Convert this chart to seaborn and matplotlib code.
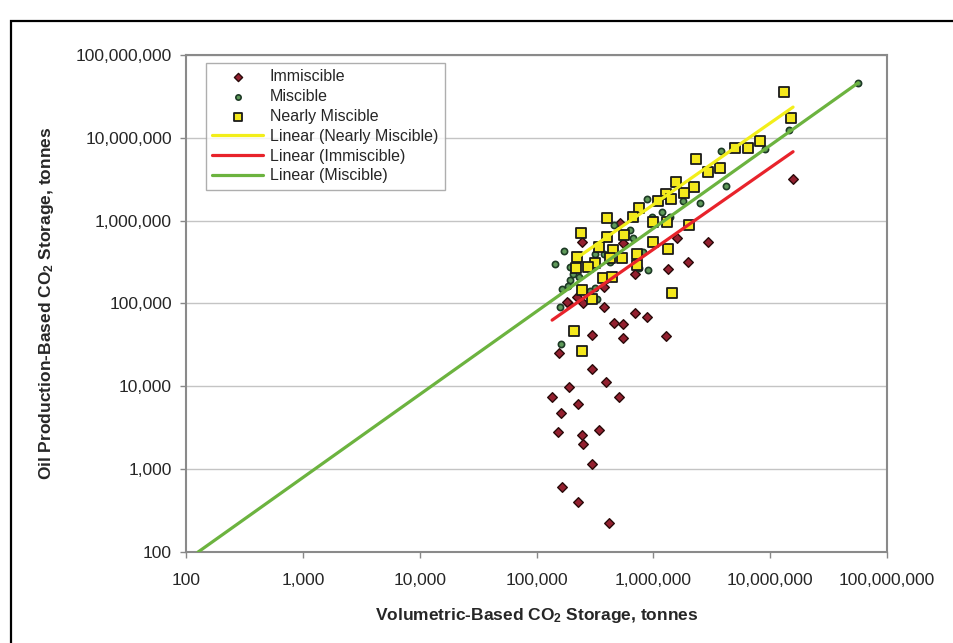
import numpy as np
import pandas as pd
import seaborn as sns
import matplotlib.pyplot as plt
from matplotlib.patches import Rectangle

# values (tonnes)
immiscible_x = [3.78e5, 6.97e5, 8.83e5, 4.61e5, 5.50e5, 2.99e5, 5.50e5, 1.28e6, 1.56e5, 2.99e5,
                3.94e5, 1.90e5, 1.36e5, 5.08e5, 2.27e5, 1.62e5, 1.53e5, 3.43e5, 2.45e5, 2.50e5,
                2.99e5, 1.65e5, 2.27e5, 4.18e5, 1.86e5, 5.19e5, 2.45e5, 5.50e5, 1.60e6, 2.94e6,
                1.98e6, 1.34e6, 6.97e5, 3.78e5, 1.82e5, 2.22e5, 2.50e5, 1.57e7]
immiscible_y = [9.1e4, 7.7e4, 6.9e4, 5.8e4, 5.7e4, 4.2e4, 3.8e4, 4.0e4, 2.5e4, 1.6e4,
                1.13e4, 9.8e3, 7.4e3, 7.4e3, 6.1e3, 4.8e3, 2.8e3, 3.0e3, 2.6e3, 2.0e3,
                1.15e3, 610, 400, 224, 1.01e5, 9.4e5, 5.5e5, 5.4e5, 6.2e5, 5.5e5,
                3.2e5, 2.6e5, 2.3e5, 1.6e5, 1.04e5, 1.2e5, 1.0e5, 3.2e6]

miscible_x = [3.80e6, 4.19e6, 2.51e6, 1.80e6, 8.83e5, 1.19e6, 9.75e5, 1.39e6, 4.61e5, 6.31e5,
              6.70e5, 8.16e5, 3.78e5, 3.17e5, 1.72e5, 1.44e5, 1.94e5, 2.05e5, 2.31e5, 1.94e5,
              1.86e5, 1.65e5, 3.17e5, 2.87e5, 3.30e5, 1.59e5, 9.01e5, 7.54e5, 1.62e5, 5.65e7,
              1.45e7, 9.04e6, 4.26e5]
miscible_y = [6.9e6, 2.6e6, 1.63e6, 1.73e6, 1.83e6, 1.27e6, 1.11e6, 1.11e6, 8.9e5, 7.7e5,
              6.2e5, 4.2e5, 4.0e5, 4.0e5, 4.3e5, 3.0e5, 2.76e5, 2.27e5, 2.09e5, 1.92e5,
              1.63e5, 1.50e5, 1.54e5, 1.42e5, 1.13e5, 9.1e4, 2.54e5, 2.69e5, 3.24e4, 4.6e7,
              1.24e7, 7.3e6, 3.17e5]

nearly_x = [8.18e6, 6.46e6, 5.00e6, 2.32e6, 3.72e6, 2.94e6, 1.56e6, 2.23e6, 1.28e6, 1.10e6,
            1.42e6, 1.83e6, 7.54e5, 6.70e5, 4.02e5, 9.94e5, 1.31e6, 2.02e6, 5.61e5, 2.40e5,
            4.02e5, 9.94e5, 1.34e6, 4.52e5, 3.43e5, 2.22e5, 7.25e5, 4.26e5, 5.40e5, 3.17e5,
            2.76e5, 2.18e5, 7.25e5, 3.71e5, 4.43e5, 2.45e5, 2.99e5, 1.45e6, 2.09e5, 2.45e5,
            1.31e7, 1.51e7]
nearly_y = [9.2e6, 7.5e6, 7.5e6, 5.6e6, 4.3e6, 3.9e6, 2.9e6, 2.55e6, 2.1e6, 1.73e6,
            1.83e6, 2.16e6, 1.42e6, 1.11e6, 1.08e6, 9.6e5, 9.6e5, 8.9e5, 6.7e5, 7.1e5,
            6.35e5, 5.5e5, 4.55e5, 4.4e5, 4.8e5, 3.65e5, 3.96e5, 3.54e5, 3.54e5, 3.08e5,
            2.76e5, 2.69e5, 2.92e5, 2.03e5, 2.09e5, 1.46e5, 1.13e5, 1.34e5, 4.6e4, 2.67e4,
            3.6e7, 1.74e7]

# trend line end points
trend_names = ['Linear (Nearly Miscible)', 'Linear (Immiscible)', 'Linear (Miscible)']
trend_x = [[2.22e5, 1.57e7], [1.36e5, 1.57e7], [127, 5.65e7]]
trend_y = [[3.55e5, 2.35e7], [6.3e4, 6.8e6], [100, 4.6e7]]
trend_colors = ['#f2ee1a', '#e8232b', '#6cb33f']

ticks = [1e2, 1e3, 1e4, 1e5, 1e6, 1e7, 1e8]

sns.set_style('white')
plt.rcParams['font.family'] = ['Liberation Sans', 'DejaVu Sans']
plt.rcParams['mathtext.fontset'] = 'custom'
plt.rcParams['mathtext.rm'] = 'Liberation Sans:bold'
plt.rcParams['mathtext.bf'] = 'Liberation Sans:bold'
plt.rcParams['mathtext.default'] = 'bf'

fig = plt.figure(figsize=(9.54, 6.43), dpi=100)
ax = fig.add_axes([186 / 954, 1 - 552 / 643, 701 / 954, 497 / 643])

sns.scatterplot(x=immiscible_x, y=immiscible_y, ax=ax, marker='D', s=24, color='#93202f',
                edgecolor='#2a0a0a', linewidth=1.0, label='Immiscible', zorder=3)
sns.scatterplot(x=miscible_x, y=miscible_y, ax=ax, marker='o', s=20, color='#5f9a5a',
                edgecolor='#1d3a25', linewidth=1.2, label='Miscible', zorder=3)
sns.scatterplot(x=nearly_x, y=nearly_y, ax=ax, marker='s', s=58, color='#f4e81c',
                edgecolor='#1a1a1a', linewidth=1.3, label='Nearly Miscible', zorder=4)
for name, tx, ty, c in zip(trend_names, trend_x, trend_y, trend_colors):
    sns.lineplot(x=tx, y=ty, ax=ax, color=c, linewidth=2.3, label=name, zorder=5)

ax.set_xscale('log')
ax.set_yscale('log')
ax.set_xlim(1e2, 1e8)
ax.set_ylim(1e2, 1e8)
ax.set_xticks(ticks)
ax.set_yticks(ticks)
ax.xaxis.set_minor_locator(plt.NullLocator())
ax.yaxis.set_minor_locator(plt.NullLocator())
ax.set_xticklabels([f'{int(t):,}' for t in ticks])
ax.set_yticklabels([f'{int(t):,}' for t in ticks])
ax.tick_params(axis='both', which='major', labelsize=12.5, length=4, width=1, color='#888888',
               direction='out', bottom=True, left=True)
ax.tick_params(axis='x', pad=11)
ax.tick_params(axis='y', pad=6)
ax.grid(axis='y', color='#c4c4c4', linewidth=1)
ax.grid(axis='x', visible=False)
for sp in ax.spines.values():
    sp.set_color('#8a8a8a')
    sp.set_linewidth(1.5)

ax.set_xlabel('Volumetric-Based CO$_2$ Storage, tonnes', fontsize=12.5, fontweight='bold', labelpad=13)
ax.set_ylabel('Oil Production-Based CO$_2$ Storage, tonnes', fontsize=12.5, fontweight='bold', labelpad=14)

leg = ax.legend(loc='upper left', bbox_to_anchor=(0.0285, 0.984), fontsize=11.5, frameon=True,
                fancybox=False, edgecolor='#9a9a9a', handlelength=3.2, handletextpad=0.4,
                labelspacing=0.3, borderpad=0.4, borderaxespad=0, markerscale=0.85)
leg.get_frame().set_linewidth(1)

# outer frame of the original figure
fig.patches.append(Rectangle((11 / 954, -0.1), 1.2, 1 - 21 / 643 + 0.1, transform=fig.transFigure,
                             fill=False, edgecolor='black', linewidth=1.6, zorder=0))

fig.savefig('out.png', dpi=100)
